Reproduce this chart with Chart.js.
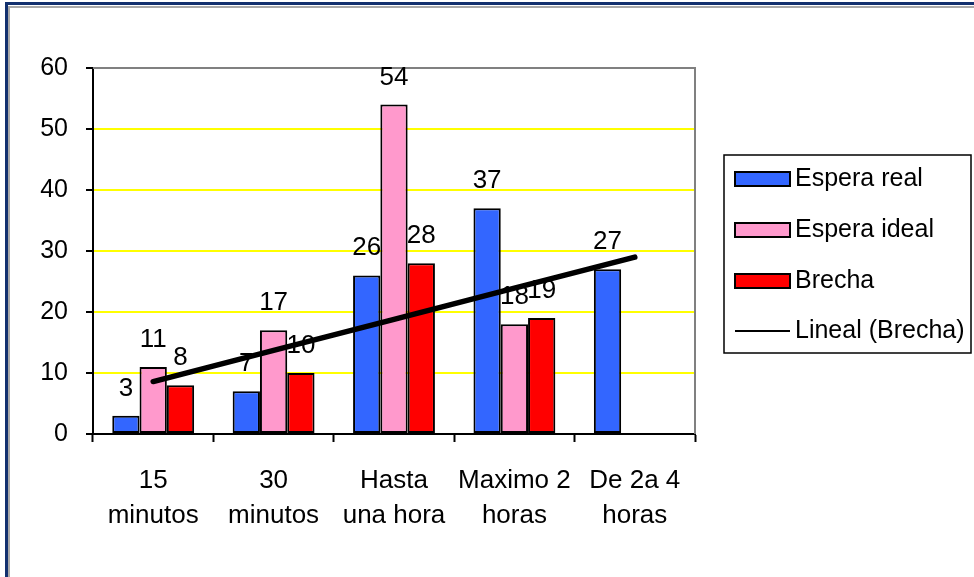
<!DOCTYPE html>
<html>
<head>
<meta charset="utf-8">
<script src="https://cdn.jsdelivr.net/npm/chart.js@4/dist/chart.umd.min.js"></script>
<style>
  html, body { margin: 0; padding: 0; background: #fff; }
  canvas { display: block; }
</style>
</head>
<body>
<canvas id="chart" width="974" height="577"></canvas>
<script>
// waiting-time categories and the three series
const categories = [['15', 'minutos'], ['30', 'minutos'], ['Hasta', 'una hora'], ['Maximo 2', 'horas'], ['De 2a 4', 'horas']];
const esperaReal = [3, 7, 26, 37, 27];
const esperaIdeal = [11, 17, 54, 18, null];
const brecha = [8, 10, 28, 19, null];
const yTicks = [0, 10, 20, 30, 40, 50, 60];

const FONT = '"Liberation Sans", Arial, sans-serif';

// least squares line through the Brecha values (x = 1..n)
function linearTrend(values) {
    const pts = values.map((v, i) => [i + 1, v]).filter(p => p[1] != null);
    const n = pts.length;
    const mx = pts.reduce((s, p) => s + p[0], 0) / n;
    const my = pts.reduce((s, p) => s + p[1], 0) / n;
    let sxy = 0, sxx = 0;
    pts.forEach(p => { sxy += (p[0] - mx) * (p[1] - my); sxx += (p[0] - mx) ** 2; });
    const slope = sxy / sxx;
    const intercept = my - slope * mx;
    return values.map((_, i) => intercept + slope * (i + 1));
}

const framePlugin = {
    id: 'frame',
    beforeDraw(chart) {
        const ctx = chart.ctx;
        ctx.save();
        ctx.fillStyle = '#fff';
        ctx.fillRect(0, 0, chart.width, chart.height);
        ctx.strokeStyle = '#a8a8a8';
        ctx.lineWidth = 2;
        ctx.beginPath();
        ctx.moveTo(9, 6); ctx.lineTo(9, chart.height);
        ctx.moveTo(9, 7); ctx.lineTo(chart.width, 7);
        ctx.stroke();
        ctx.strokeStyle = '#12306e';
        ctx.lineWidth = 3;
        ctx.beginPath();
        ctx.moveTo(6.5, chart.height);
        ctx.lineTo(6.5, 3.5);
        ctx.lineTo(chart.width, 3.5);
        ctx.stroke();
        ctx.restore();
    }
};

const plotBorderPlugin = {
    id: 'plotBorder',
    beforeDatasetsDraw(chart) {
        const { ctx, chartArea: a } = chart;
        ctx.save();
        ctx.strokeStyle = '#808080';
        ctx.lineWidth = 2;
        ctx.beginPath();
        ctx.moveTo(a.left, a.top);
        ctx.lineTo(a.right, a.top);
        ctx.lineTo(a.right, a.bottom);
        ctx.stroke();
        ctx.restore();
    }
};

const valueLabelPlugin = {
    id: 'valueLabels',
    afterDatasetsDraw(chart) {
        const ctx = chart.ctx;
        ctx.save();
        ctx.font = '26px ' + FONT;
        ctx.fillStyle = '#000';
        ctx.textAlign = 'center';
        ctx.textBaseline = 'alphabetic';
        chart.data.datasets.forEach((ds, di) => {
            if (ds.type !== 'bar') return;
            chart.getDatasetMeta(di).data.forEach((bar, i) => {
                const v = ds.data[i];
                if (v == null) return;
                ctx.fillText(String(v), bar.x, bar.y - 20);
            });
        });
        ctx.restore();
    }
};

const legendBoxPlugin = {
    id: 'legendBox',
    afterDraw(chart) {
        const ctx = chart.ctx;
        const box = { x: 724, y: 155, w: 247, h: 198 };
        ctx.save();
        ctx.strokeStyle = '#000';
        ctx.lineWidth = 1.5;
        ctx.strokeRect(box.x, box.y, box.w, box.h);
        ctx.font = '25px ' + FONT;
        ctx.textBaseline = 'middle';
        ctx.fillStyle = '#000';
        const rows = [179, 230, 281, 331];
        chart.data.datasets.forEach((ds, i) => {
            const y = rows[i];
            if (ds.type === 'bar') {
                ctx.fillStyle = ds.backgroundColor;
                ctx.fillRect(735, y - 7, 55, 14);
                ctx.lineWidth = 2;
                ctx.strokeStyle = '#000';
                ctx.strokeRect(735, y - 7, 55, 14);
            } else {
                ctx.strokeStyle = '#000';
                ctx.lineWidth = 2;
                ctx.beginPath();
                ctx.moveTo(735, y);
                ctx.lineTo(790, y);
                ctx.stroke();
            }
            ctx.fillStyle = '#000';
            ctx.fillText(ds.label, 795, y);
        });
        ctx.restore();
    }
};

const barStyle = {
    type: 'bar',
    borderColor: '#000',
    borderWidth: 2,
    borderSkipped: false,
    barPercentage: 1,
    categoryPercentage: 0.68,
    order: 1
};

new Chart(document.getElementById('chart'), {
    data: {
        labels: categories,
        datasets: [
            { ...barStyle, label: 'Espera real', data: esperaReal, backgroundColor: '#3366ff' },
            { ...barStyle, label: 'Espera ideal', data: esperaIdeal, backgroundColor: '#ff99cc' },
            { ...barStyle, label: 'Brecha', data: brecha, backgroundColor: '#ff0000' },
            {
                type: 'line',
                label: 'Lineal (Brecha)',
                data: linearTrend(brecha),
                borderColor: '#000',
                borderWidth: 5.5,
                borderCapStyle: 'round',
                pointRadius: 0,
                fill: false,
                order: 0
            }
        ]
    },
    options: {
        responsive: false,
        devicePixelRatio: 1,
        animation: false,
        layout: { padding: { top: 68, right: 279, left: 0, bottom: 0 } },
        plugins: {
            legend: { display: false },
            tooltip: { enabled: false }
        },
        scales: {
            x: {
                offset: true,
                grid: {
                    offset: true,
                    drawOnChartArea: false,
                    drawTicks: true,
                    tickLength: 8,
                    tickColor: '#000',
                    tickWidth: 2
                },
                border: { color: '#000', width: 2 },
                ticks: {
                    color: '#000',
                    font: { family: FONT, size: 26, lineHeight: 1.32 },
                    padding: 22,
                    maxRotation: 0,
                    autoSkip: false
                },
                afterFit(scale) { scale.height = 143; }
            },
            y: {
                min: 0,
                max: 60,
                afterBuildTicks(scale) { scale.ticks = yTicks.map(v => ({ value: v })); },
                grid: {
                    color: '#ffff00',
                    lineWidth: 2,
                    tickLength: 7,
                    tickColor: '#000',
                    tickWidth: 2
                },
                border: { color: '#000', width: 2 },
                ticks: {
                    color: '#000',
                    font: { family: FONT, size: 25 },
                    padding: 18
                },
                afterFit(scale) { scale.width = 93; }
            }
        }
    },
    plugins: [framePlugin, plotBorderPlugin, valueLabelPlugin, legendBoxPlugin]
});
</script>
</body>
</html>
